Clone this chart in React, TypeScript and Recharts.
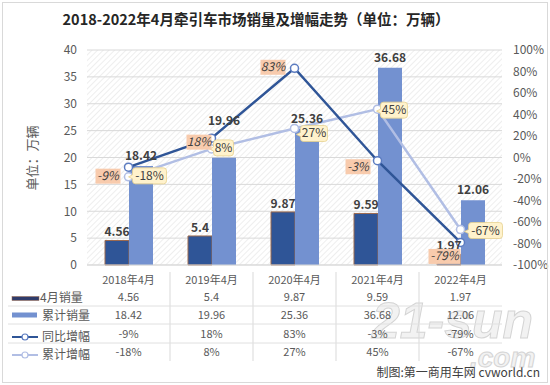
import React from "react";
import {
  ComposedChart,
  Bar,
  Line,
  XAxis,
  YAxis,
  CartesianGrid,
  LabelList,
} from "recharts";

const categories = ["2018年4月", "2019年4月", "2020年4月", "2021年4月", "2022年4月"];
const aprilSales = [4.56, 5.4, 9.87, 9.59, 1.97];
const cumulativeSales = [18.42, 19.96, 25.36, 36.68, 12.06];
const yoyGrowth = [-9, 18, 83, -3, -79];
const cumulativeGrowth = [-18, 8, 27, 45, -67];
const leftTicks = [0, 5, 10, 15, 20, 25, 30, 35, 40];
const rightTicks = [-100, -80, -60, -40, -20, 0, 20, 40, 60, 80, 100];
const seriesNames = ["4月销量", "累计销量", "同比增幅", "累计增幅"];

const data = categories.map((c, i) => ({
  cat: c,
  april: aprilSales[i],
  cum: cumulativeSales[i],
  yoy: yoyGrowth[i],
  cumg: cumulativeGrowth[i],
}));

const FONT = "'Noto Sans CJK SC', 'Liberation Sans', sans-serif";
const TXT = "#595959";
const DARK = "#2F5597";
const LIGHT = "#7391D0";
const LINE2 = "#B1BEE4";

// table row baselines
const rowY = [301, 319, 338, 356];

const TableTick = (props: any) => {
  const { x, payload } = props;
  const i = payload.index;
  const d = data[i];
  const vals = [d.april, d.cum, `${d.yoy}%`, `${d.cumg}%`];
  return (
    <g fontFamily={FONT} fontSize={11} fill={TXT}>
      <text x={x} y={284} textAnchor="middle" fill={TXT}>
        {payload.value}
      </text>
      {vals.map((v, k) => (
        <text key={k} x={x} y={rowY[k]} textAnchor="middle" fill={TXT}>
          {v}
        </text>
      ))}
      {i > 0 && <line x1={x - 41.5} x2={x - 41.5} y1={272} y2={361} stroke="#D9D9D9" />}
    </g>
  );
};

const cumBarDy = [0, -27, 0, 0, 0];
const CumBarLabel = (props: any) => {
  const { x, y, width, value, index } = props;
  return (
    <text
      x={x + width / 2}
      y={y - 6 + cumBarDy[index]}
      textAnchor="middle"
      fontFamily={FONT}
      fontSize={12}
      fontWeight="bold"
      fill="#404040"
    >
      {value}
    </text>
  );
};

const yoyDx = [-8, 0, -9, -7, 0];
const yoyDy = [9, 4, -1, 6, 14];
const YoyLabel = (props: any) => {
  const { x, y, value, index } = props;
  const t = `${value}%`;
  const w = t.length * 7 + 4;
  const h = 15;
  const right = x + yoyDx[index];
  const cy = y + yoyDy[index];
  return (
    <g>
      <rect x={right - w} y={cy - h / 2} width={w} height={h} fill="#F8CBAD" />
      <text
        x={right - w / 2}
        y={cy + 4}
        textAnchor="middle"
        fontFamily={FONT}
        fontSize={12}
        fontStyle="italic"
        fill="#404040"
      >
        {t}
      </text>
    </g>
  );
};

const cumDx = [4, 2, 6, 3, 8];
const cumDy = [-1, -1, 5, 1, 1];
const CumLabel = (props: any) => {
  const { x, y, value, index } = props;
  const t = `${value}%`;
  const w = t.length * 7 + 6;
  const h = 16;
  const left = x + cumDx[index];
  const cy = y + cumDy[index];
  return (
    <g>
      <path
        d={`M${left + 3},${cy - h / 2} h${w - 6} q3,0 3,3 v${h - 6} q0,3 -3,3 h${-(w - 6)} q-3,0 -3,-3 v-2 l-4,-2 l4,-2 v${-(h - 12)} q0,-3 3,-3 z`}
        fill="#FFF2CC"
        stroke="#E6D08E"
        strokeWidth={0.8}
      />
      <text
        x={left + w / 2}
        y={cy + 4}
        textAnchor="middle"
        fontFamily={FONT}
        fontSize={12}
        fill="#404040"
      >
        {t}
      </text>
    </g>
  );
};

export default function App() {
  return (
    <div
      style={{
        position: "absolute",
        left: 0,
        top: 0,
        width: 550,
        height: 385,
        background: "#fff",
      }}
    >
      <svg
        width={550}
        height={385}
        style={{ position: "absolute", left: 0, top: 0 }}
      >
        {/* watermark (behind everything) */}
        <text
          x={372}
          y={338}
          fontSize={50}
          fontWeight="bold"
          fontStyle="italic"
          fill="#F2F2F2"
          stroke="#D4D4D4"
          strokeWidth={1}
          fontFamily="'Liberation Sans', sans-serif"
        >
          21-sun
        </text>
        <text
          x={470}
          y={367}
          fontSize={28}
          fontWeight="bold"
          fontStyle="italic"
          fill="#F2F2F2"
          stroke="#D4D4D4"
          strokeWidth={1}
          fontFamily="'Liberation Sans', sans-serif"
        >
          .com
        </text>
      </svg>
      <div style={{ position: "absolute", left: 0, top: 0 }}>
        <ComposedChart
          width={550}
          height={385}
          data={data}
          margin={{ top: 50, right: 0, bottom: 10, left: 47 }}
          barGap={0}
          style={{ fontFamily: FONT }}
        >
          <defs>
            <pattern id="hatch" width="4" height="4" patternUnits="userSpaceOnUse" patternTransform="rotate(45)">
              <rect width="4" height="4" fill="#FFFFFF" />
              <line x1="0" y1="0" x2="0" y2="4" stroke="#E4E4E4" strokeWidth="1.2" />
            </pattern>
          </defs>
          <CartesianGrid
            yAxisId="left"
            vertical={false}
            stroke="#D9D9D9"
            fill="url(#hatch)"
            fillOpacity={1}
          />
          <XAxis
            dataKey="cat"
            height={110}
            tickLine={false}
            axisLine={{ stroke: "#D9D9D9" }}
            tick={<TableTick />}
            interval={0}
          />
          <YAxis
            yAxisId="left"
            width={40}
            domain={[0, 40]}
            ticks={leftTicks}
            axisLine={false}
            tickLine={false}
            tickMargin={4}
            tick={{ fill: TXT, fontSize: 12, fontFamily: FONT }}
          />
          <YAxis
            yAxisId="right"
            orientation="right"
            width={48}
            domain={[-100, 100]}
            ticks={rightTicks}
            axisLine={false}
            tickLine={false}
            tickMargin={5}
            tickFormatter={(v: number) => `${v}%`}
            tick={{ fill: TXT, fontSize: 12, fontFamily: FONT }}
          />
          <Bar
            yAxisId="left"
            dataKey="april"
            name={seriesNames[0]}
            barSize={24}
            fill={DARK}
            stroke="#9C6A4E"
            strokeWidth={1}
            isAnimationActive={false}
          >
            <LabelList
              dataKey="april"
              position="top"
              offset={4}
              fill="#404040"
              fontSize={12}
              fontWeight="bold"
              fontFamily={FONT}
            />
          </Bar>
          <Bar
            yAxisId="left"
            dataKey="cum"
            name={seriesNames[1]}
            barSize={24}
            fill={LIGHT}
            isAnimationActive={false}
          >
            <LabelList dataKey="cum" content={<CumBarLabel />} />
          </Bar>
          <Line
            yAxisId="right"
            dataKey="cumg"
            name={seriesNames[3]}
            stroke={LINE2}
            strokeWidth={2.5}
            dot={{ r: 4, fill: "#fff", stroke: LINE2, strokeWidth: 1.5 }}
            isAnimationActive={false}
          >
            <LabelList dataKey="cumg" content={<CumLabel />} />
          </Line>
          <Line
            yAxisId="right"
            dataKey="yoy"
            name={seriesNames[2]}
            stroke={DARK}
            strokeWidth={2.5}
            dot={{ r: 4, fill: "#fff", stroke: "#5B7BC0", strokeWidth: 1.5 }}
            isAnimationActive={false}
          >
            <LabelList dataKey="yoy" content={<YoyLabel />} />
          </Line>
        </ComposedChart>
      </div>
      <svg
        width={550}
        height={385}
        style={{ position: "absolute", left: 0, top: 0, pointerEvents: "none" }}
        fontFamily={FONT}
      >
        <rect x={2.5} y={2.5} width={545} height={380} fill="none" stroke="#D9D9D9" />
        <text x={256} y={25} textAnchor="middle" fontSize={14.5} fontWeight="bold" fill="#262626">
          2018-2022年4月牵引车市场销量及增幅走势（单位：万辆）
        </text>
        <text
          transform="translate(37,158) rotate(-90)"
          textAnchor="middle"
          fontSize={13}
          fill={TXT}
        >
          单位：万辆
        </text>
        {/* table rows separators */}
        {[306, 324, 343].map((yy) => (
          <line key={yy} x1={8} x2={502} y1={yy} y2={yy} stroke="#E0E0E0" />
        ))}
        {/* legend keys */}
        <rect x={12} y={296.5} width={27} height={4} fill="#2F3B6A" stroke="#9C6A4E" strokeWidth={0.5} />
        <rect x={12} y={312.5} width={25} height={5} fill={LIGHT} />
        <line x1={12} x2={38} y1={337} y2={337} stroke={DARK} strokeWidth={2} />
        <circle cx={25} cy={337} r={3} fill="#fff" stroke="#5B7BC0" strokeWidth={1.2} />
        <line x1={12} x2={38} y1={355} y2={355} stroke={LINE2} strokeWidth={2} />
        <circle cx={25} cy={355} r={3} fill="#fff" stroke={LINE2} strokeWidth={1.2} />
        <g fontSize={12} fill={TXT}>
          <text x={40} y={302}>{seriesNames[0]}</text>
          <text x={42} y={320}>{seriesNames[1]}</text>
          <text x={42} y={341}>{seriesNames[2]}</text>
          <text x={42} y={359}>{seriesNames[3]}</text>
        </g>
        <text x={540} y={377} textAnchor="end" fontSize={12} fill="#404040">
          制图:第一商用车网 cvworld.cn
        </text>
      </svg>
    </div>
  );
}
